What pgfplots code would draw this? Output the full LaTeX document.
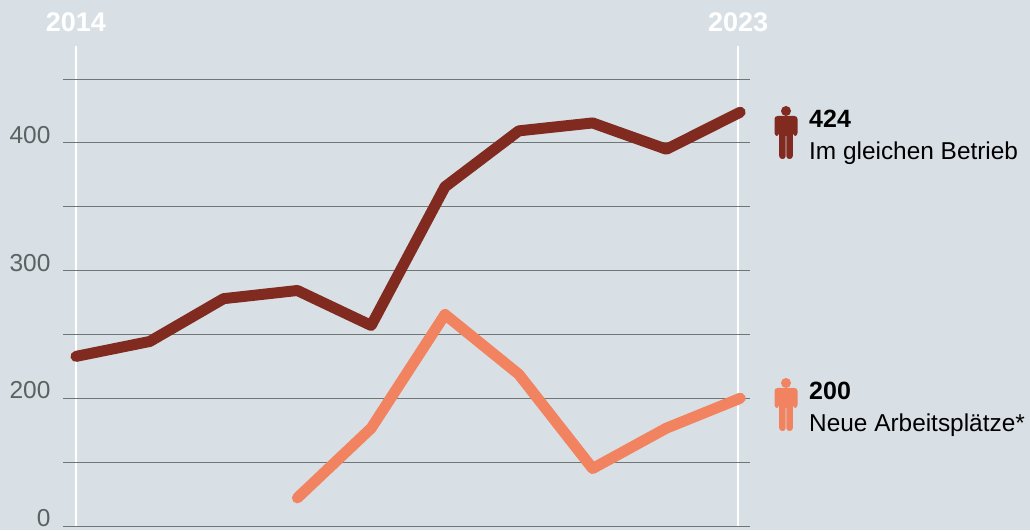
\documentclass[border=0pt]{standalone}
\usepackage{pgfplots}
\pgfplotsset{compat=1.18}
\usepackage{fontspec}
\setmainfont{Liberation Sans}
\definecolor{bg}{HTML}{D8E0E5}
\definecolor{dark}{HTML}{802A20}
\definecolor{salmon}{HTML}{F28360}
\definecolor{gridc}{HTML}{6E7676}
\definecolor{tickc}{HTML}{5A6262}
\pgfplotstableread{
year val
2014 232.8
2015 244.5
2016 278
2017 284.4
2018 257
2019 365.6
2020 409.4
2021 415.6
2022 395
2023 424
}\dark
\pgfplotstableread{
year val
2017 122
2018 176.6
2019 265.6
2020 218.8
2021 145
2022 176.6
2023 200
}\neu
\newcommand{\person}[3]{% x, y(top), colour
  \fill[#3] (#1,#2-5) circle (5);
  \fill[#3,rounded corners=3pt] (#1-11.5,#2-30) -- (#1-11.5,#2-10) -- (#1+11.5,#2-10) -- (#1+11.5,#2-30) -- (#1+7,#2-30) -- (#1+6.8,#2-24) -- (#1-6.8,#2-24) -- (#1-7,#2-30) -- cycle;
  \fill[#3,rounded corners=3pt] (#1-6.8,#2-53) rectangle (#1-0.3,#2-20);
  \fill[#3,rounded corners=3pt] (#1+0.3,#2-53) rectangle (#1+6.8,#2-20);
  \fill[#3] (#1-6.8,#2-30) rectangle (#1+6.8,#2-15);
}
\begin{document}
\begin{tikzpicture}[x=1pt,y=1pt]
\useasboundingbox (0,0) rectangle (1030,530);
\fill[bg] (0,0) rectangle (1030,530);
\begin{axis}[
  anchor=south west, at={(63pt,4pt)},
  scale only axis, width=687pt, height=480pt,
  xmin=2013.824, xmax=2023.133, ymin=100, ymax=475.85,
  axis line style={draw=none}, clip=false,
  xtick={2014,2022.973}, xticklabels={2014,2023},
  xticklabel pos=upper,
  xticklabel style={text=white,font=\fontsize{27}{27}\selectfont\bfseries,yshift=11pt},
  /pgf/number format/1000 sep={},
  xmajorgrids, x grid style={white,line width=2.6pt},
  ytick={100,150,200,250,300,350,400,450},
  yticklabels={0,,200,,300,,400,},
  ymajorgrids, y grid style={gridc,line width=1pt},
  major tick length=0pt,
  yticklabel style={text=tickc,font=\fontsize{24.5}{24.5}\selectfont,xshift=-9pt,yshift=8pt},
  /pgf/number format/assume math mode=true,
]
\addplot[dark,line width=11pt,line join=round,line cap=round] table[x=year,y=val]{\dark};
\addplot[salmon,line width=11pt,line join=round,line cap=round] table[x=year,y=val]{\neu};
\end{axis}
\person{786}{424}{dark}
\person{786}{152}{salmon}
\node[anchor=base west,inner sep=0,font=\fontsize{25}{25}\selectfont\bfseries] at (809,402) {424};
\node[anchor=base west,inner sep=0,font=\fontsize{24.4}{24.4}\selectfont] at (809,370) {Im gleichen Betrieb};
\node[anchor=base west,inner sep=0,font=\fontsize{25}{25}\selectfont\bfseries] at (809,130) {200};
\node[anchor=base west,inner sep=0,font=\fontsize{24.4}{24.4}\selectfont] at (809,98) {Neue Arbeitsplätze*};
\end{tikzpicture}
\end{document}
